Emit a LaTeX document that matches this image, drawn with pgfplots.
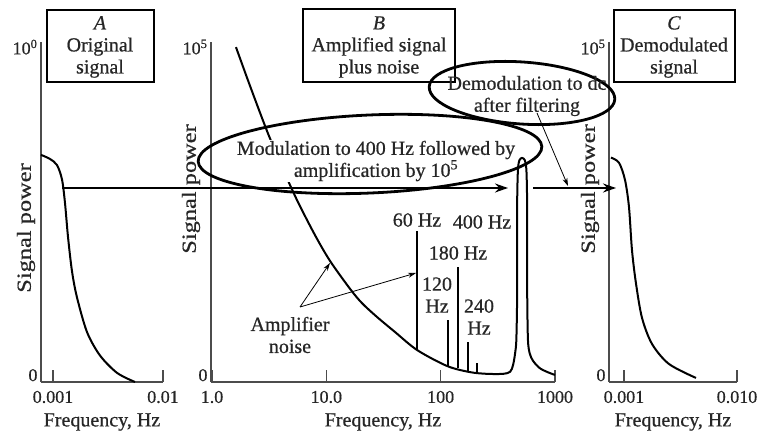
\documentclass[border=0pt]{standalone}
\usepackage{fontspec}
\setmainfont{Liberation Serif}[FakeBold=0.6]
\usepackage{graphicx}
\usepackage{pgfplots}
\pgfplotsset{compat=1.18}
\usetikzlibrary{arrows.meta}

% one panel of the figure: linear power against log frequency
\pgfplotsset{
  panel/.style={
    scale only axis, anchor=south west,
    height=340pt, ymin=0, ymax=1,
    axis x line*=bottom, axis y line*=left,
    axis line style={black!70, line width=1.2pt},
    tick align=inside, major tick length=12pt,
    xtick style={black!70, line width=1.2pt},
    ytick style={draw=none}, xminorticks=false,
    ytick={0.02,0.985},
    tick label style={font=\fontsize{18}{20}\selectfont, text=black!85},
    xticklabel style={anchor=center, yshift=-15pt},
    xlabel={Frequency, Hz},
    xlabel style={at={(axis description cs:0.5,0)}, anchor=center,
      yshift=-40pt, font=\fontsize{20}{22}\selectfont, text=black!85},
    clip=false,
  },
  curve/.style={black, line width=2pt, smooth},
  spike/.style={black, line width=2pt},
}

\begin{document}
\begin{tikzpicture}
\useasboundingbox (0pt,0pt) rectangle (761pt,-433pt);

% A: original signal
\begin{semilogxaxis}[panel, at={(41pt,-382pt)}, width=122pt,
  xmin=0.000778, xmax=0.01,
  xtick={0.001,0.01}, xticklabels={0.001,0.01},
  yticklabels={0,10\textsuperscript{0}}]
\addplot[curve] coordinates {
  (0.000778,0.668) (0.000939,0.656) (0.001087,0.638) (0.001207,0.596)
  (0.001285,0.527) (0.001368,0.428) (0.001488,0.326) (0.001652,0.249)
  (0.002037,0.147) (0.002675,0.078) (0.003817,0.027) (0.005564,0.0)
};
\end{semilogxaxis}

% B: amplified signal plus noise
\begin{semilogxaxis}[panel, at={(211pt,-382pt)}, width=344pt,
  xmin=0.98, xmax=1000,
  xtick={1,10,100,1000}, xticklabels={1.0,10.0,100,1000},
  yticklabels={0,10\textsuperscript{5}}]
\addplot[curve] coordinates {
  (1.62,0.985) (2.15,0.871) (3.03,0.738) (4.10,0.632) (5.54,0.535)
  (7.96,0.432) (10.78,0.356) (16.12,0.274) (20.5,0.232) (27.8,0.191)
  (39.9,0.147) (62.2,0.094) (113.8,0.047) (180.8,0.029) (254.8,0.024)
  (351.6,0.024) (405,0.030) (429.8,0.050) (448,0.085) (459,0.124)
  (466,0.241) (466,0.388) (467,0.535) (474,0.624) (488,0.652)
  (515,0.659) (545,0.652) (562,0.624) (570,0.535) (570,0.388)
  (572,0.241) (580,0.124) (600,0.085) (643,0.062) (741,0.040)
  (906,0.026) (1000,0.021)
};
\addplot[spike] coordinates {(62.2,0.094) (62.2,0.444)};
\addplot[spike] coordinates {(116.1,0.047) (116.1,0.182)};
\addplot[spike] coordinates {(142,0.040) (142,0.338)};
\addplot[spike] coordinates {(173.7,0.031) (173.7,0.118)};
\addplot[spike] coordinates {(208,0.026) (208,0.056)};
\end{semilogxaxis}

% C: demodulated signal
\begin{semilogxaxis}[panel, at={(609pt,-382pt)}, width=128pt,
  xmin=0.000737, xmax=0.01,
  xtick={0.001,0.01}, xticklabels={0.001,0.010},
  yticklabels={0,10\textsuperscript{5}}]
\addplot[curve] coordinates {
  (0.000767,0.660) (0.000903,0.645) (0.00102,0.595) (0.001107,0.515)
  (0.001177,0.388) (0.001277,0.290) (0.001443,0.189) (0.001770,0.112)
  (0.002500,0.053) (0.004335,0.012)
};
\end{semilogxaxis}

% annotations, in pixel coordinates of the reference
\begin{scope}[x=1pt, y=-1pt, font=\fontsize{20}{22}\selectfont,
  text=black!85]
  \foreach \yy/\xx in {228/26, 189/191, 189/590}
    \node[rotate=90] at (\xx,\yy) {\scalebox{1.22}[1]{Signal power}};

  \draw[line width=2.8pt] (47,10) rectangle (154,82);
  \node[align=center] at (100,47) {\textit{A}\\Original\\signal};
  \draw[line width=2.8pt] (303,9) rectangle (455,82);
  \node[align=center] at (379,47) {\textit{B}\\Amplified signal\\plus noise};
  \draw[line width=2.8pt] (614,10) rectangle (735,82);
  \node[align=center] at (674,47) {\textit{C}\\Demodulated\\signal};

  \node[align=center, fill=white, inner sep=1pt] at (376,161)
    {Modulation to 400 Hz followed by\\amplification by 10\textsuperscript{5}};
  \draw[line width=2.8pt, rotate around={2.5:(370,154)}]
    (370,154) ellipse [x radius=172, y radius=39];
  \draw[line width=2.8pt, rotate around={-4:(522,93)}]
    (522,93) ellipse [x radius=93, y radius=31];
  \node[align=center] at (527,96) {Demodulation to dc\\after filtering};

  \draw[line width=2pt, -{Stealth[length=13pt, width=9pt]}] (62,188) -- (508,188);
  \draw[line width=2pt, -{Stealth[length=13pt, width=9pt]}] (533,188) -- (616,188);
  \draw[line width=0.8pt, -{Stealth[length=8pt, width=5pt]}] (537,113) -- (568,186);

  \node[align=center] at (290,335) {Amplifier\\noise};
  \draw[line width=0.8pt, -{Stealth[length=8pt, width=5pt]}] (300,307) -- (330,263);
  \draw[line width=0.8pt, -{Stealth[length=8pt, width=5pt]}] (300,307) -- (416,273);

  \node at (417,220) {60 Hz};
  \node at (482,222) {400 Hz};
  \node at (458,253) {180 Hz};
  \node[align=center] at (437,295) {120\\Hz};
  \node[align=center] at (479,317) {240\\Hz};
\end{scope}
\end{tikzpicture}
\end{document}
